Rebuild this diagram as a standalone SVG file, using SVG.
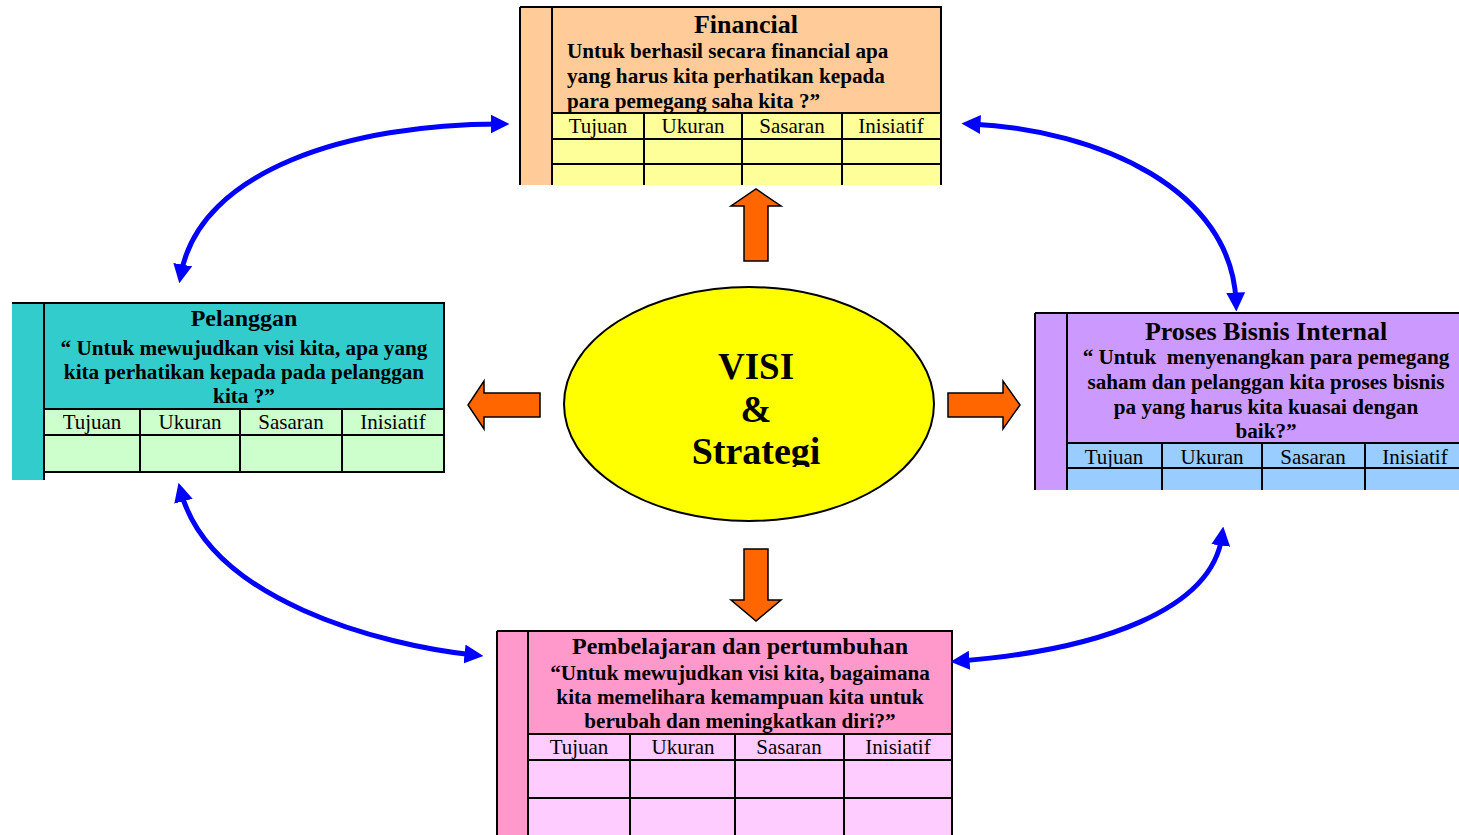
<svg xmlns="http://www.w3.org/2000/svg" width="1459" height="835" viewBox="0 0 1459 835">
<style>
.ln{stroke:#000;stroke-width:2;fill:none}
.title{font-family:"Liberation Serif",serif;font-weight:bold;fill:#000;text-anchor:middle}
.body{font-family:"Liberation Serif",serif;font-weight:bold;font-size:21.2px;fill:#000}
.mid{text-anchor:middle}
.hdr{font-family:"Liberation Serif",serif;font-size:21px;fill:#000;text-anchor:middle}
.orange{fill:#FF6600;stroke:#000;stroke-width:1.5;stroke-linejoin:miter}
.blue{fill:none;stroke:#0000FF;stroke-width:5;marker-start:url(#ah);marker-end:url(#ah)}
</style>
<defs>
<marker id="ah" viewBox="0 0 10 10" refX="5" refY="5" markerUnits="userSpaceOnUse" markerWidth="19" markerHeight="19" orient="auto-start-reverse">
<path d="M0,0 L10,5 L0,10 Z" fill="#0000FF"/>
</marker>
<clipPath id="clipVisi"><rect x="560" y="280" width="380" height="187"/></clipPath>
</defs>
<rect width="1459" height="835" fill="#fff"/>

<g id="financial">
<rect x="520" y="7" width="32" height="178" fill="#FFCC99"/>
<rect x="552" y="7" width="389" height="106" fill="#FFCC99"/>
<rect x="552" y="113" width="389" height="72" fill="#FFFF99"/>
<path class="ln" d="M520,7 H941 V185 M520,7 V185 M552,7 V185 M552,113 H941 M552,139 H941 M552,164 H941 M644,113 V185 M742,113 V185 M842,113 V185"/>
<text class="title" x="746" y="33" font-size="26">Financial</text>
<text class="body" x="567" y="58">Untuk berhasil secara financial apa</text>
<text class="body" x="567" y="83">yang harus kita perhatikan kepada</text>
<text class="body" x="567" y="108">para pemegang saha kita ?”</text>
<text class="hdr" x="598" y="133">Tujuan</text>
<text class="hdr" x="693" y="133">Ukuran</text>
<text class="hdr" x="792" y="133">Sasaran</text>
<text class="hdr" x="891" y="133">Inisiatif</text>
</g>

<g id="pelanggan">
<rect x="12" y="303" width="32" height="177" fill="#33CCCC"/>
<rect x="44" y="303" width="400" height="106" fill="#33CCCC"/>
<rect x="44" y="409" width="400" height="63" fill="#CCFFCC"/>
<path class="ln" d="M12,303 H444 V472 H44 M44,303 V480 M44,409 H444 M44,435 H444 M140,409 V472 M240,409 V472 M342,409 V472"/>
<text class="title" x="244" y="326" font-size="24">Pelanggan</text>
<text class="body mid" x="244" y="355">“ Untuk mewujudkan visi kita, apa yang</text>
<text class="body mid" x="244" y="379">kita perhatikan kepada pada pelanggan</text>
<text class="body mid" x="244" y="403">kita ?”</text>
<text class="hdr" x="92" y="429">Tujuan</text>
<text class="hdr" x="190" y="429">Ukuran</text>
<text class="hdr" x="291" y="429">Sasaran</text>
<text class="hdr" x="393" y="429">Inisiatif</text>
</g>

<g id="proses">
<rect x="1035" y="313" width="32" height="177" fill="#CC99FF"/>
<rect x="1067" y="313" width="392" height="130" fill="#CC99FF"/>
<rect x="1067" y="443" width="392" height="47" fill="#99CCFF"/>
<path class="ln" d="M1035,313 H1459 M1035,313 V490 M1067,313 V490 M1067,443 H1459 M1067,468 H1459 M1162,443 V490 M1262,443 V490 M1365,443 V490"/>
<text class="title" x="1266" y="340" font-size="26">Proses Bisnis Internal</text>
<text class="body mid" x="1266" y="364" xml:space="preserve">“ Untuk  menyenangkan para pemegang</text>
<text class="body mid" x="1266" y="389">saham dan pelanggan kita proses bisnis</text>
<text class="body mid" x="1266" y="414">pa yang harus kita kuasai dengan</text>
<text class="body mid" x="1266" y="438">baik?”</text>
<text class="hdr" x="1114" y="464">Tujuan</text>
<text class="hdr" x="1212" y="464">Ukuran</text>
<text class="hdr" x="1313" y="464">Sasaran</text>
<text class="hdr" x="1415" y="464">Inisiatif</text>
</g>

<g id="pembelajaran">
<rect x="497" y="631" width="31" height="204" fill="#FF99CC"/>
<rect x="528" y="631" width="424" height="103" fill="#FF99CC"/>
<rect x="528" y="734" width="424" height="101" fill="#FFCCFF"/>
<path class="ln" d="M497,631 H952 V835 M497,631 V835 M528,631 V835 M528,734 H952 M528,760 H952 M528,798 H952 M630,734 V835 M735,734 V835 M844,734 V835"/>
<text class="title" x="740" y="654" font-size="24">Pembelajaran dan pertumbuhan</text>
<text class="body mid" x="740" y="680">“Untuk mewujudkan visi kita, bagaimana</text>
<text class="body mid" x="740" y="704">kita memelihara kemampuan kita untuk</text>
<text class="body mid" x="740" y="728">berubah dan meningkatkan diri?”</text>
<text class="hdr" x="579" y="754">Tujuan</text>
<text class="hdr" x="683" y="754">Ukuran</text>
<text class="hdr" x="789" y="754">Sasaran</text>
<text class="hdr" x="898" y="754">Inisiatif</text>
</g>

<g id="visi">
<ellipse cx="749" cy="404" rx="185" ry="117" fill="#FFFF00" stroke="#000" stroke-width="2"/>
<g clip-path="url(#clipVisi)">
<text class="title" x="756" y="379" font-size="37">VISI</text>
<text class="title" x="756" y="422" font-size="37">&amp;</text>
<text class="title" x="756" y="464" font-size="38">Strategi</text>
</g>
</g>

<g id="connectors">
<path class="orange" d="M744,261 V206 H731 L756,189 L781,206 H768 V261 Z"/>
<path class="orange" d="M744,549 V600 H731 L756,621 L781,600 H768 V549 Z"/>
<path class="orange" d="M540,393 H484 V381 L468,405 L484,429 V417 H540 Z"/>
<path class="orange" d="M948,393 H1003 V381 L1020,405 L1003,429 V417 H948 Z"/>
<path class="blue" d="M181,274 C200,170 350,124 500,124"/>
<path class="blue" d="M971,124 C1100,130 1232,190 1236,302"/>
<path class="blue" d="M181,492 C210,600 380,645 474,655"/>
<path class="blue" d="M960,661 C1100,650 1212,610 1222,536"/>
</g>
</svg>
